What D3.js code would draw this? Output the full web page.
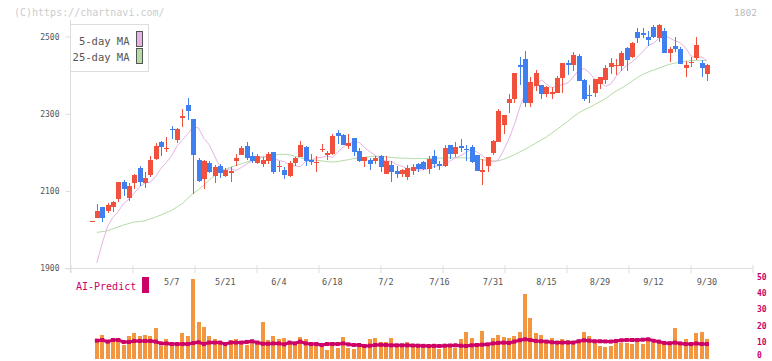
<!DOCTYPE html>
<html><head><meta charset="utf-8">
<script src="https://cdn.jsdelivr.net/npm/d3@7"></script>
<style>body{margin:0;background:#fff;} svg{display:block;} text{font-family:"DejaVu Sans Mono",monospace;}</style>
</head><body><svg id="c" width="772" height="361"></svg>
<script>
const dates = ["4/11","4/14","4/15","4/16","4/17","4/18","4/21","4/22","4/23","4/24","4/25","4/28","4/30",
"5/1","5/2","5/7","5/8","5/9","5/12","5/13","5/14","5/15","5/16","5/19","5/20","5/21","5/22","5/23","5/26","5/27","5/28","5/29","5/30",
"6/2","6/3","6/4","6/5","6/6","6/9","6/10","6/11","6/12","6/13","6/16","6/17","6/18","6/19","6/20","6/23","6/24","6/25","6/26","6/27","6/30",
"7/1","7/2","7/3","7/4","7/7","7/8","7/9","7/10","7/11","7/14","7/15","7/16","7/17","7/18","7/22","7/23","7/24","7/25","7/28","7/29","7/30","7/31",
"8/1","8/4","8/5","8/6","8/7","8/8","8/12","8/13","8/14","8/15","8/18","8/19","8/20","8/21","8/22","8/25","8/26","8/27","8/28","8/29",
"9/1","9/2","9/3","9/4","9/5","9/8","9/9","9/10","9/11","9/12","9/16","9/17","9/18","9/19","9/22","9/24","9/25","9/26","9/29","9/30"];
const opens = [2022,2030,2059,2049,2058,2079,2123,2083,2122,2159,2122,2141,2183,2226,2209,2261,2232,2289,2323,2286,2180,2131,2173,2140,2165,2140,2146,2178,2193,2217,2191,2173,2169,2178,2201,2162,2155,2139,2173,2189,2214,2180,2172,2206,2194,2197,2250,2246,2217,2237,2204,2178,2180,2178,2191,2145,2167,2152,2144,2137,2153,2170,2175,2157,2191,2169,2166,2219,2197,2217,2210,2214,2193,2150,2165,2198,2228,2271,2329,2337,2426,2442,2329,2373,2374,2351,2350,2354,2392,2431,2425,2449,2388,2349,2354,2377,2388,2422,2424,2423,2470,2447,2511,2508,2498,2524,2496,2515,2457,2476,2468,2418,2431,2444,2432,2402];
const highs = [2022,2066,2059,2068,2073,2124,2129,2120,2143,2165,2149,2191,2224,2229,2241,2269,2262,2312,2341,2287,2186,2180,2179,2167,2170,2159,2163,2195,2217,2227,2201,2196,2189,2202,2202,2178,2161,2178,2189,2230,2217,2196,2191,2222,2204,2248,2258,2247,2248,2238,2211,2189,2186,2191,2192,2191,2178,2165,2156,2167,2170,2173,2178,2191,2206,2178,2218,2220,2227,2235,2219,2219,2194,2182,2189,2231,2312,2298,2350,2406,2448,2463,2394,2413,2375,2371,2370,2398,2432,2440,2459,2455,2389,2375,2391,2395,2427,2444,2442,2462,2474,2487,2523,2523,2513,2529,2533,2523,2472,2500,2472,2437,2447,2500,2438,2428];
const lows = [2022,2029,2021,2044,2045,2072,2087,2075,2106,2114,2107,2137,2180,2191,2202,2235,2224,2266,2284,2092,2123,2105,2146,2122,2134,2137,2124,2166,2192,2180,2173,2170,2163,2169,2145,2149,2132,2136,2165,2187,2166,2168,2150,2202,2180,2194,2222,2219,2208,2191,2175,2163,2155,2169,2150,2145,2124,2134,2137,2129,2141,2150,2154,2145,2160,2154,2163,2184,2189,2202,2178,2173,2152,2116,2148,2193,2227,2247,2303,2329,2374,2318,2317,2359,2338,2344,2338,2353,2354,2401,2410,2384,2334,2329,2343,2365,2377,2403,2401,2410,2410,2444,2482,2496,2476,2496,2486,2456,2434,2459,2429,2396,2422,2440,2396,2385];
const closes = [2022,2048,2031,2064,2072,2123,2105,2112,2142,2124,2134,2180,2217,2215,2212,2259,2261,2293,2308,2192,2126,2179,2149,2162,2147,2155,2153,2186,2211,2185,2178,2191,2180,2197,2149,2165,2142,2173,2186,2219,2178,2174,2176,2208,2199,2242,2243,2220,2225,2201,2178,2188,2170,2186,2163,2178,2149,2145,2155,2159,2161,2156,2158,2184,2171,2166,2211,2197,2215,2211,2205,2176,2153,2154,2188,2230,2307,2297,2337,2405,2420,2327,2383,2405,2351,2370,2357,2392,2431,2425,2453,2386,2339,2346,2390,2394,2418,2431,2427,2457,2439,2483,2497,2504,2491,2498,2531,2457,2468,2468,2430,2426,2435,2477,2419,2427];
const ma5 = [null,1914,1965,2008,2032,2047,2068,2079,2095,2111,2121,2123,2138,2159,2174,2192,2217,2233,2248,2267,2263,2236,2220,2191,2162,2153,2158,2153,2161,2170,2178,2183,2190,2189,2186,2179,2176,2167,2165,2163,2177,2180,2186,2187,2191,2187,2200,2214,2222,2226,2226,2213,2202,2192,2185,2177,2177,2169,2164,2158,2157,2154,2155,2158,2164,2166,2167,2178,2186,2192,2200,2208,2201,2192,2180,2175,2180,2206,2235,2272,2315,2353,2357,2374,2388,2377,2367,2373,2375,2380,2395,2412,2417,2407,2390,2383,2371,2377,2396,2412,2425,2434,2447,2461,2476,2483,2495,2504,2496,2489,2484,2471,2450,2445,2447,2437];
const ma25 = [null,1993,1995,1997,2002,2007,2012,2016,2020,2021,2023,2028,2033,2038,2044,2050,2059,2068,2081,2094,2104,2115,2128,2140,2150,2156,2162,2166,2171,2175,2179,2183,2187,2190,2193,2195,2195,2194,2190,2186,2183,2181,2180,2178,2176,2175,2176,2179,2181,2184,2185,2187,2189,2190,2190,2189,2187,2186,2185,2185,2184,2184,2184,2184,2185,2185,2185,2186,2186,2186,2186,2185,2183,2181,2179,2178,2178,2182,2188,2194,2201,2208,2216,2224,2232,2240,2250,2260,2270,2281,2292,2302,2310,2316,2324,2331,2339,2349,2359,2366,2375,2384,2394,2402,2408,2413,2418,2423,2428,2431,2434,2436,2438,2438,2438,2438];
const volume = [null,12.0,14.5,11.4,11.8,12.4,8.3,13.9,15.7,13.9,14.3,13.9,18.8,7.7,12.0,8.9,7.7,15.7,13.9,49.0,22.5,19.4,13.9,12.0,10.8,8.3,11.4,12.0,9.5,8.3,10.8,9.5,22.5,11.4,13.9,12.0,12.6,10.2,8.3,13.2,12.0,9.5,7.7,7.7,5.2,10.2,6.5,13.2,6.5,5.8,7.1,
7.3,12.0,12.8,10.0,10.4,12.8,8.7,8.7,10.2,8.7,8.7,8.7,7.3,8.7,5.7,8.7,7.3,6.7,12.0,16.5,12.8,7.3,17.1,9.8,12.8,14.5,13.5,12.8,14.0,16.5,39.7,25.1,15.9,14.5,10.4,12.8,9.8,12.0,11.4,10.4,11.4,16.5,13.9,9.8,7.7,6.9,7.7,9.8,9.3,9.8,9.0,12.8,8.7,12.8,9.8,9.8,11.0,9.0,19.0,8.7,12.0,8.7,15.9,16.5,12.0];
const aiPredict = [null,11.0,11.4,10.4,11.4,11.4,10.2,10.2,10.8,10.8,10.8,10.8,10.4,9.3,9.3,8.9,8.9,8.9,8.9,9.5,10.0,8.9,9.8,9.8,9.8,8.9,9.8,9.8,9.8,10.2,10.6,9.8,9.1,9.1,9.3,9.3,8.7,9.8,9.3,10.4,9.3,8.9,8.9,8.3,8.9,8.9,8.9,9.3,8.7,8.3,8.3,
7.7,7.9,8.3,8.5,8.3,8.1,8.1,8.1,8.1,8.0,7.9,7.8,7.7,7.8,7.7,7.9,8.0,8.1,7.9,7.7,8.1,8.3,8.5,8.7,9.3,9.6,9.8,9.6,10.4,11.2,11.8,11.4,10.8,10.6,10.4,10.0,9.8,9.8,9.8,9.8,10.6,11.2,11.0,10.6,10.6,10.5,10.4,10.8,11.2,11.4,11.4,11.4,11.6,11.8,10.9,10.4,9.6,9.4,9.8,9.3,8.9,8.9,9.3,8.9,8.9];
const tickLabels = ["5/7","5/21","6/4","6/18","7/2","7/16","7/31","8/15","8/29","9/12","9/30"];
const priceTicks = [1900,2100,2300,2500];
const volTicks = [0,10,20,30,40,50];
const legendItems = ["5-day MA","25-day MA"];

const C = {up:"#f0503c", down:"#3f7fef", ma5:"#e6b2e6", ma25:"#b6dca6", vol:"#f2963f", ai:"#cc0066", grid:"#dddddd", text:"#555555"};
const svg = d3.select("#c");
const x = d3.scaleLinear().domain([0, dates.length-1]).range([91.5, 707]);
const y = d3.scaleLinear().domain([1900, 2500]).range([268.3, 36.5]);
const yv = d3.scaleLinear().domain([0, 50]).range([358.5, 277.3]);
const gridX = d3.scaleLinear().domain([0, 11]).range([70.5, 752.5]);
const idx = d3.range(dates.length);

svg.append("text").attr("x",14).attr("y",16).attr("font-size",10).attr("fill","#cccccc").text("(C)https://chartnavi.com/");
svg.append("text").attr("x",757).attr("y",16).attr("text-anchor","end").attr("font-size",9.5).attr("fill","#bbbbbb").text("1802");

const gx = svg.append("g").attr("transform","translate(0,265)")
  .call(d3.axisBottom(gridX).ticks(11).tickSize(8).tickFormat(""));
gx.select(".domain").remove();
gx.selectAll("line").attr("stroke",C.grid);
svg.append("line").attr("x1",65).attr("x2",752.5).attr("y1",268.5).attr("y2",268.5).attr("stroke",C.grid);
svg.append("line").attr("x1",70.5).attr("x2",70.5).attr("y1",20).attr("y2",273).attr("stroke",C.grid);

const ga = svg.append("g").attr("transform","translate(70.5,0)")
  .call(d3.axisLeft(y).tickValues(priceTicks).tickSize(5).tickPadding(6).tickFormat(d3.format("d")));
ga.select(".domain").remove();
ga.selectAll("line").attr("stroke",C.grid);
ga.selectAll("text").attr("font-size",8).attr("fill",C.text).style("font-family","'DejaVu Sans Mono',monospace");

const line = (arr) => d3.line().defined(i => arr[i] != null).x(i => x(i)).y(i => y(arr[i]))(idx);
svg.append("path").attr("d", line(ma25)).attr("fill","none").attr("stroke",C.ma25).attr("stroke-width",1);
svg.append("path").attr("d", line(ma5)).attr("fill","none").attr("stroke",C.ma5).attr("stroke-width",1);

const cg = svg.append("g").attr("shape-rendering","crispEdges");
idx.forEach(i => {
  const o = opens[i], c = closes[i], h = highs[i], l = lows[i];
  const col = c >= o ? C.up : C.down;
  const cx = Math.round(x(i));
  cg.append("line").attr("x1",cx+0.5).attr("x2",cx+0.5).attr("y1",y(h)).attr("y2",y(l)).attr("stroke",col);
  const top = y(Math.max(o,c)), bot = y(Math.min(o,c));
  cg.append("rect").attr("x",cx-2).attr("width",5).attr("y",top).attr("height",Math.max(1,bot-top)).attr("fill",col);
});

svg.append("rect").attr("x",70.5).attr("y",24.5).attr("width",78).attr("height",47).attr("fill","#fff").attr("stroke",C.grid);
const lg = svg.append("g");
legendItems.forEach((t,k) => {
  lg.append("text").attr("x",129.5).attr("y",45+k*16).attr("text-anchor","end").attr("font-size",10.5).attr("fill",C.text).text(t);
  lg.append("rect").attr("x",136.5).attr("y",31.5+k*17).attr("width",6).attr("height",15).attr("fill",k===0?C.ma5:C.ma25).attr("stroke","#555").attr("stroke-width",1);
});

tickLabels.forEach(t => {
  const i = dates.indexOf(t);
  svg.append("text").attr("x",x(i)).attr("y",285).attr("text-anchor","middle").attr("font-size",8.5).attr("fill",C.text).text(t);
});

const vg = svg.append("g").attr("shape-rendering","crispEdges");
idx.filter(i => volume[i] != null).forEach(i => {
  const cx = Math.round(x(i));
  vg.append("rect").attr("x",cx-2).attr("width",4).attr("y",yv(volume[i])).attr("height",yv(0)-yv(volume[i])).attr("fill",C.vol);
});
svg.append("path").attr("d", d3.line().defined(i => aiPredict[i] != null).x(i => x(i)).y(i => yv(aiPredict[i]))(idx))
  .attr("fill","none").attr("stroke",C.ai).attr("stroke-width",3);
svg.append("g").selectAll("rect").data(idx.filter(i => aiPredict[i] != null)).join("rect")
  .attr("x", i => x(i)-2).attr("y", i => yv(aiPredict[i])-2).attr("width",4).attr("height",4).attr("fill",C.ai);

svg.append("text").attr("x",76).attr("y",290).attr("font-size",10).attr("fill",C.ai).text("AI-Predict");
svg.append("rect").attr("x",142).attr("y",277).attr("width",7).attr("height",16).attr("fill",C.ai);

const gv = svg.append("g").attr("transform","translate(753,0)")
  .call(d3.axisRight(yv).tickValues(volTicks).tickSize(0).tickPadding(4));
gv.select(".domain").remove();
gv.selectAll("text").attr("font-size",8).attr("font-weight","bold").attr("fill",C.ai)
  .attr("dy", d => d === 0 ? "-0.1em" : "0.25em").style("font-family","'DejaVu Sans Mono',monospace");
</script></body></html>
